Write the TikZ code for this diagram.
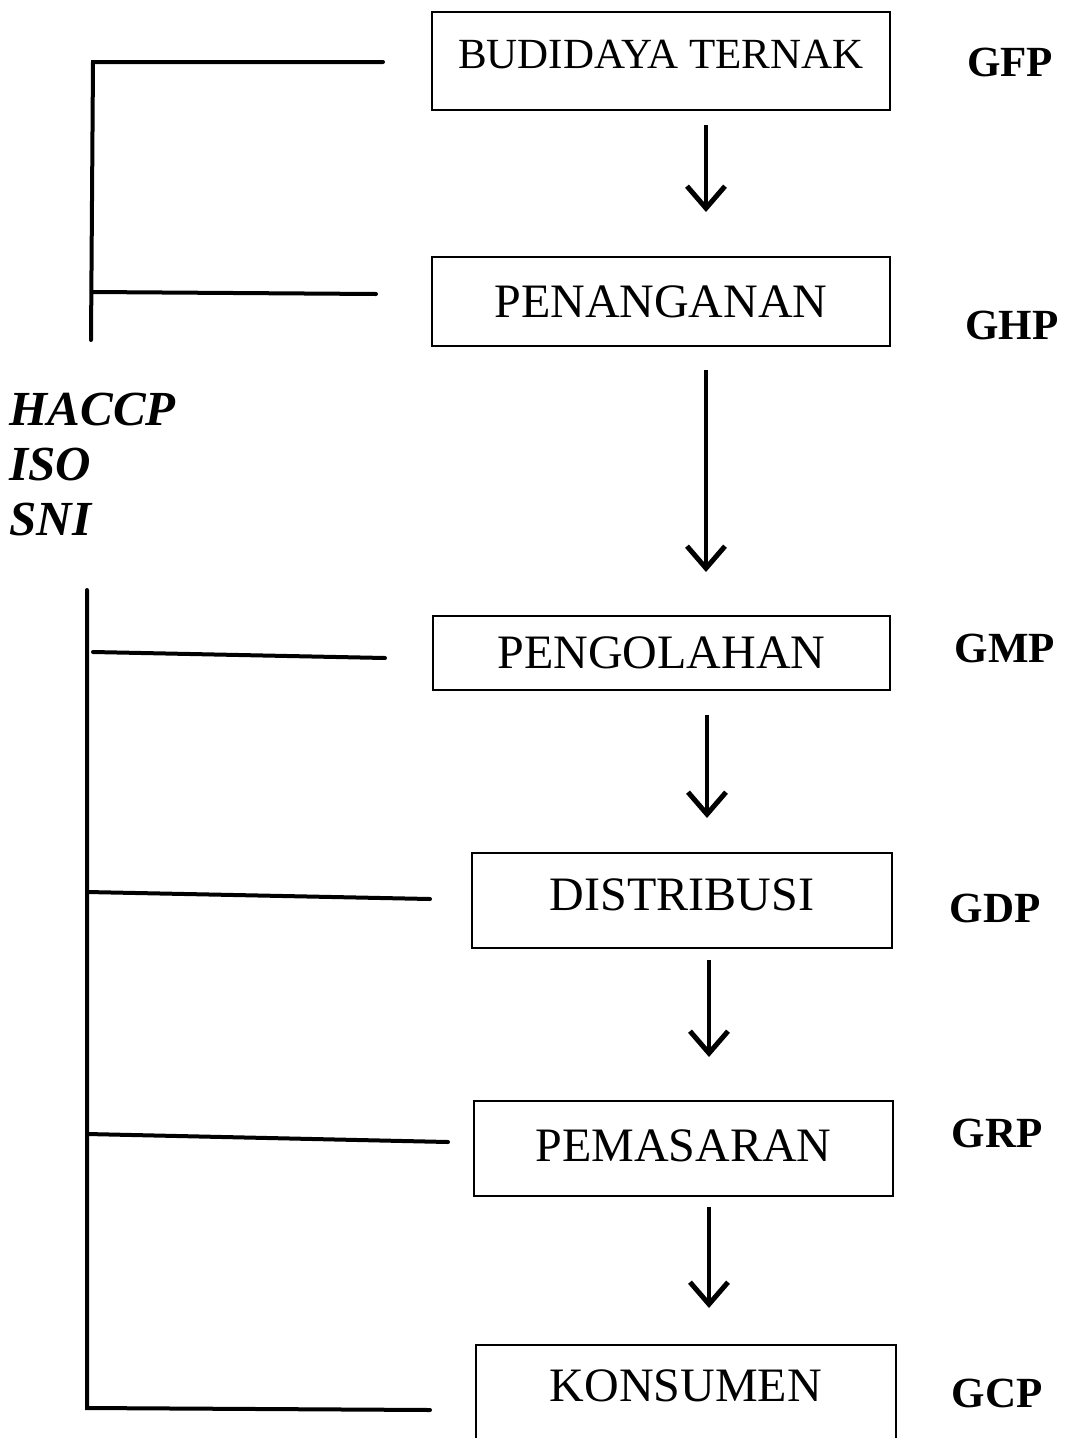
\documentclass[tikz,border=0pt]{standalone}
\usepackage{fontspec}
\setmainfont{Liberation Serif}
\usetikzlibrary{arrows.meta,calc}
\tikzset{
  stepbox/.style={draw,line width=1.6pt,inner sep=0pt,font=\fontsize{48}{52}\selectfont},
  arr/.style={line width=4.5pt,-{Straight Barb[length=22pt,width=38pt,line width=5pt]}},
  brk/.style={line width=4pt,line cap=round},
  gx/.style={font=\fontsize{43}{46}\selectfont\bfseries,anchor=center},
  std/.style={font=\fontsize{49}{54}\selectfont\bfseries\itshape,anchor=west}
}
\begin{document}
\begin{tikzpicture}[x=1pt,y=-1pt]
\useasboundingbox (0,0) rectangle (1070,1438);
\fill[white] (0,0) rectangle (1070,1438);
\node[stepbox,minimum width=458pt,minimum height=98pt,font=\fontsize{43}{46}\selectfont] (b1) at (661,61) {\raisebox{14pt}{BUDIDAYA TERNAK}};
\node[stepbox,minimum width=458pt,minimum height=89pt] (b2) at (661,301.5) {PENANGANAN};
\node[stepbox,minimum width=457pt,minimum height=74pt] (b3) at (661.5,653) {PENGOLAHAN};
\node[stepbox,minimum width=420pt,minimum height=95pt] (b4) at (682,900.5) {\raisebox{12pt}{DISTRIBUSI}};
\node[stepbox,minimum width=419pt,minimum height=95pt] (b5) at (683.5,1148.5) {\raisebox{6pt}{PEMASARAN}};
\node[stepbox,minimum width=420pt,minimum height=95pt] (b6) at (686,1392.5) {\raisebox{14pt}{KONSUMEN}};
% arrows
\coordinate (a1s) at (706,125); \coordinate (a1e) at (706,212);
\coordinate (a2s) at (706,370); \coordinate (a2e) at (706,572);
\coordinate (a3s) at (707,715); \coordinate (a3e) at (707,818);
\coordinate (a4s) at (709,960); \coordinate (a4e) at (709,1057);
\coordinate (a5s) at (709,1207); \coordinate (a5e) at (709,1308);
\draw[arr] (a1s) -- (a1e);
\draw[arr] (a2s) -- (a2e);
\draw[arr] (a3s) -- (a3e);
\draw[arr] (a4s) -- (a4e);
\draw[arr] (a5s) -- (a5e);
% bracket top
\coordinate (t0) at (91,340); \coordinate (t1) at (93,62); \coordinate (t1e) at (383,62);
\coordinate (t2) at (92,292); \coordinate (t2e) at (376,294);
\draw[brk] (t0) -- (t1) -- (t1e);
\draw[brk] (t2) -- (t2e);
% bracket bottom
\coordinate (u0) at (87,590); \coordinate (u1) at (87,1408); \coordinate (u1e) at (430,1410);
\draw[brk] (u0) -- (u1) -- (u1e);
\coordinate (h3) at (93,652); \coordinate (h3e) at (385,658);
\coordinate (h4) at (87,892); \coordinate (h4e) at (430,899);
\coordinate (h5) at (87,1134); \coordinate (h5e) at (448,1142);
\draw[brk] (h3) -- (h3e);
\draw[brk] (h4) -- (h4e);
\draw[brk] (h5) -- (h5e);
% left labels
\node[std] (l1) at (6,410) {HACCP};
\node[std] (l2) at (6,465) {ISO};
\node[std] (l3) at (6,520) {SNI};
% right labels
\node[gx] (g1) at (1010,62) {GFP};
\node[gx] (g2) at (1012,325) {GHP};
\node[gx] (g3) at (1005,648) {GMP};
\node[gx] (g4) at (995,908) {GDP};
\node[gx] (g5) at (997,1133) {GRP};
\node[gx] (g6) at (997,1393) {GCP};
\end{tikzpicture}
\end{document}
